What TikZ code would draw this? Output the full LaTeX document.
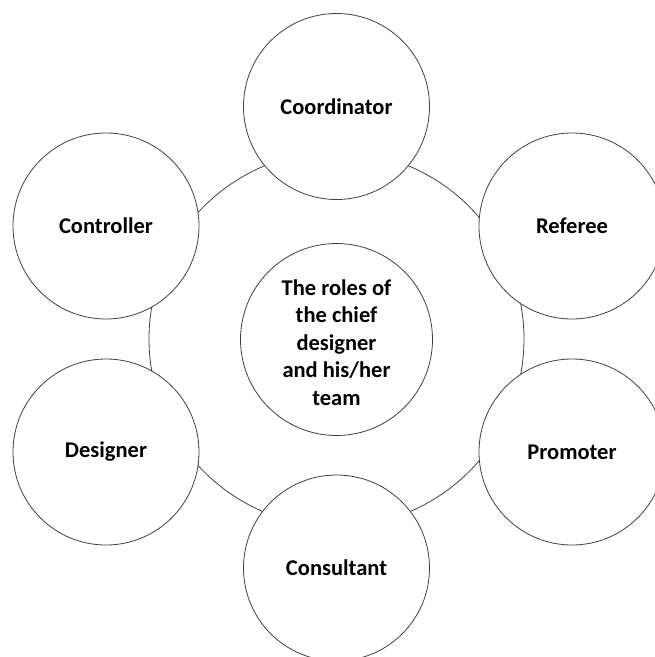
\documentclass[tikz,border=0pt]{standalone}
\usepackage{fontspec}
\setmainfont{Carlito}
\begin{document}
\begin{tikzpicture}[x=1pt,y=-1pt,
  outline/.style={draw=black!75,line width=0.8pt},
  labelfont/.style={font=\fontsize{22.5}{27.5}\selectfont\bfseries},
  role/.style={outline,circle,fill=white,minimum size=186pt,inner sep=0pt,
    labelfont,align=center},
  hubcircle/.style={outline,circle,fill=white,minimum size=192pt,inner sep=0pt},
  hubtext/.style={labelfont,align=center,inner sep=0pt},
  ringshape/.style={outline,circle,minimum size=375pt,inner sep=0pt}]
  \useasboundingbox (0,0) rectangle (655,657);
  % the ring linking the six roles
  \node[ringshape] (ring) at (336.5,339) {};
  % central topic
  \node[hubcircle] (hub) at (336.5,339.5) {};
  \node[hubtext] (hubtxt) at ([yshift=-3pt]hub.center)
    {The roles of\\the chief\\designer\\and his/her\\team};
  % the six roles around it
  \node[role] (coord) at (336.5,106.5) {Coordinator};
  \node[role] (ref)   at (572,226)   {Referee};
  \node[role] (prom)  at (572,452)   {Promoter};
  \node[role] (cons)  at (336.5,568) {Consultant};
  \node[role] (des)   at (106,452)   {Designer};
  \node[role] (ctrl)  at (106,226)   {Controller};
\end{tikzpicture}
\end{document}
